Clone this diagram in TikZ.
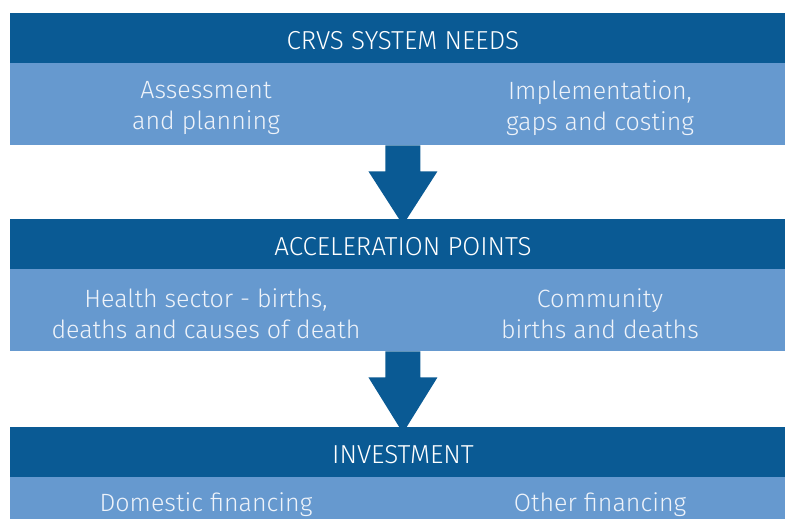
\documentclass[tikz,border=0pt]{standalone}
\usepackage{fontspec}
\IfFontExistsTF{Fira Sans Light}{\setmainfont{Fira Sans Light}}{\setmainfont{Fira Sans}}
\usetikzlibrary{calc}
\definecolor{darkband}{HTML}{0A5A94}
\definecolor{lightband}{HTML}{6699CF}
\definecolor{lighttext}{HTML}{EEF3FA}
\begin{document}
\begin{tikzpicture}[x=1pt,y=1pt,
  head/.style={fill=darkband,draw=none,minimum width=786.5pt,minimum height=50pt,inner sep=0pt,anchor=north west},
  headtext/.style={text=white,font=\fontsize{26}{26}\selectfont,inner sep=0pt},
  body/.style={fill=lightband,draw=none,minimum width=786.5pt,inner sep=0pt,anchor=north west},
  coltext/.style={text=lighttext,font=\fontsize{25}{31}\selectfont,align=center,inner sep=0pt}]
\useasboundingbox (0,0) rectangle (785,-519);
\clip (0,0) rectangle (785,-519);
% band 1
\node[head] (needs) at (9.5,-13) {};
\node[headtext] (needst) at ($(needs.center)+(0,-2)$) {CRVS SYSTEM NEEDS};
\node[body,minimum height=82pt] (needsbody) at (9.5,-63) {};
\node[coltext] (assess) at (206,-108) {Assessment\\and planning};
\node[coltext] (impl) at (600,-108) {Implementation,\\gaps and costing};
% band 2
\node[head] (accel) at (9.5,-219) {};
\node[headtext] (accelt) at ($(accel.center)+(0,-2)$) {ACCELERATION POINTS};
\node[body,minimum height=82pt] (accelbody) at (9.5,-269) {};
\node[coltext] (health) at (206,-314) {Health sector - births,\\deaths and causes of death};
\node[coltext] (comm) at (600,-314) {Community\\births and deaths};
% band 3
\node[head] (invest) at (9.5,-427) {};
\node[headtext] (investt) at ($(invest.center)+(0,-2)$) {INVESTMENT};
\node[body,minimum height=50pt] (investbody) at (9.5,-477) {};
\node[coltext] (dom) at (206,-505) {Domestic financing};
\node[coltext] (other) at (600,-505) {Other financing};
% arrows
\foreach \a/\b in {needsbody/accel, accelbody/invest}{
  \fill[darkband]
    ($(\a.south)+(-17.5,0)$) -- ($(\a.south)+(17.5,0)$)
    -- ($(\a.south)+(17.5,-26)$) -- ($(\a.south)+(34.5,-26)$)
    -- ($(\b.north)+(0,-6)$)
    -- ($(\a.south)+(-34.5,-26)$) -- ($(\a.south)+(-17.5,-26)$) -- cycle;
}
\end{tikzpicture}
\end{document}
